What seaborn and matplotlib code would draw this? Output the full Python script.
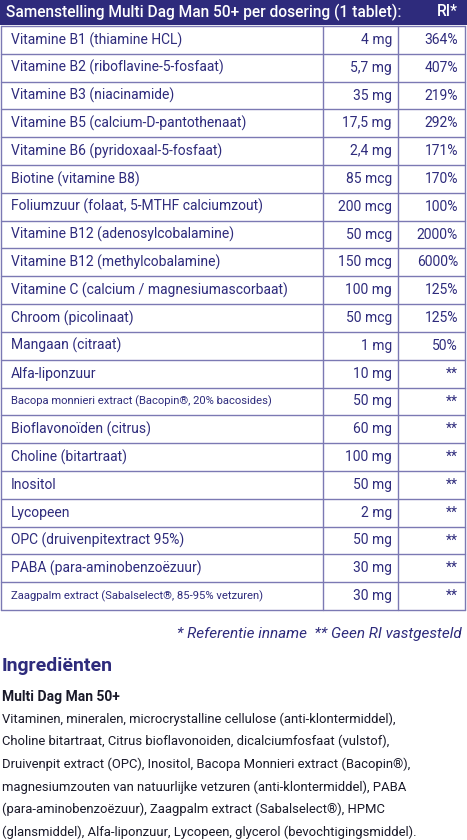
import matplotlib
matplotlib.use("Agg")
import matplotlib.pyplot as plt
import seaborn as sns

# table data
names = [
    "Vitamine B1 (thiamine HCL)", "Vitamine B2 (riboflavine-5-fosfaat)", "Vitamine B3 (niacinamide)",
    "Vitamine B5 (calcium-D-pantothenaat)", "Vitamine B6 (pyridoxaal-5-fosfaat)", "Biotine (vitamine B8)",
    "Foliumzuur (folaat, 5-MTHF calciumzout)", "Vitamine B12 (adenosylcobalamine)",
    "Vitamine B12 (methylcobalamine)", "Vitamine C (calcium / magnesiumascorbaat)",
    "Chroom (picolinaat)", "Mangaan (citraat)", "Alfa-liponzuur",
    "Bacopa monnieri extract (Bacopin®, 20% bacosides)", "Bioflavonoïden (citrus)",
    "Choline (bitartraat)", "Inositol", "Lycopeen", "OPC (druivenpitextract 95%)",
    "PABA (para-aminobenzoëzuur)", "Zaagpalm extract (Sabalselect®, 85-95% vetzuren)",
]
amounts = ["4 mg", "5,7 mg", "35 mg", "17,5 mg", "2,4 mg", "85 mcg", "200 mcg", "50 mcg", "150 mcg",
           "100 mg", "50 mcg", "1 mg", "10 mg", "50 mg", "60 mg", "100 mg", "50 mg", "2 mg",
           "50 mg", "30 mg", "30 mg"]
ri = ["364%", "407%", "219%", "292%", "171%", "170%", "100%", "2000%", "6000%", "125%", "125%",
      "50%", "**", "**", "**", "**", "**", "**", "**", "**", "**"]
small_rows = [13, 20]

header = "Samenstelling Multi Dag Man 50+ per dosering (1 tablet):"
footnote = "* Referentie inname  ** Geen RI vastgesteld"
ingredients_lines = [
    "Vitaminen, mineralen, microcrystalline cellulose (anti-klontermiddel),",
    "Choline bitartraat, Citrus bioflavonoiden, dicalciumfosfaat (vulstof),",
    "Druivenpit extract (OPC), Inositol, Bacopa Monnieri extract (Bacopin®),",
    "magnesiumzouten van natuurlijke vetzuren (anti-klontermiddel), PABA",
    "(para-aminobenzoëzuur), Zaagpalm extract (Sabalselect®), HPMC",
    "(glansmiddel), Alfa-liponzuur, Lycopeen, glycerol (bevochtigingsmiddel).",
]

sns.set_theme(style="white")
plt.rcParams["font.family"] = ["Roboto", "DejaVu Sans"]

navy = "#2e2b7c"
line_c = "#7b79b3"

fig = plt.figure(figsize=(4.67, 8.4), dpi=100)
ax = fig.add_axes([0, 0, 1, 1])
ax.set_xlim(0, 467)
ax.set_ylim(840, 0)
ax.axis("off")

# header band
ax.add_patch(plt.Rectangle((0, 0), 467, 25, color=navy, lw=0))
ax.text(6, 12, header, color="white", fontsize=11.2, fontweight="medium", va="center")
ax.text(458, 12, "RI*", color="white", fontsize=11.2, fontweight="medium", va="center", ha="right")

top, bottom = 26, 610
rh = (bottom - top) / len(names)
x_left, x_c1, x_c2, x_right = 1, 323, 398, 465
for i, (n, a, r) in enumerate(zip(names, amounts, ri)):
    y0 = top + i * rh
    ax.plot([x_left, x_right], [y0, y0], color=line_c, lw=1)
    yc = y0 + rh / 2
    fs = 8.1 if i in small_rows else 10
    ax.text(11, yc, n, color=navy, fontsize=fs, va="center")
    ax.text(392, yc, a, color=navy, fontsize=10, va="center", ha="right")
    ax.text(458, yc, r, color=navy, fontsize=10, va="center", ha="right")
ax.plot([x_left, x_right], [bottom, bottom], color=line_c, lw=1)
for x in (x_left, x_c1, x_c2, x_right):
    ax.plot([x, x], [top, bottom], color=line_c, lw=1)

ax.text(462, 634, footnote, color=navy, fontsize=11, style="italic", ha="right", va="center")
ax.text(2, 666, "Ingrediënten", color=navy, fontsize=14, fontweight="bold", va="center")
ax.text(2, 697, "Multi Dag Man 50+", color="#1a1a2a", fontsize=10, fontweight="bold", va="center")
for k, line in enumerate(ingredients_lines):
    ax.text(2, 719 + k * 22.6, line, color="#1a1a2a", fontsize=9.4, va="center")

fig.savefig("out.png", dpi=100)
